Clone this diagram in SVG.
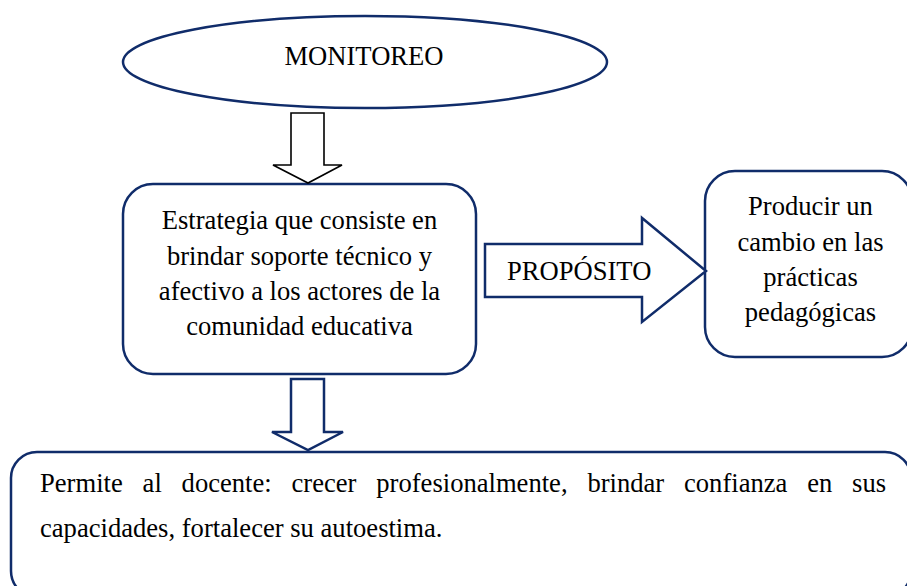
<svg xmlns="http://www.w3.org/2000/svg" width="907" height="586" viewBox="0 0 907 586">
<style>
.n{fill:#fff;stroke:#102c6a;stroke-width:2.5}
text{font-family:'Liberation Serif','Times New Roman',Times,serif;font-size:26.6px;fill:#000}
.c{text-anchor:middle}
.ak{fill:#fff;stroke:#000;stroke-width:1.6;stroke-linejoin:miter}
.ab{fill:#fff;stroke:#102c6a;stroke-width:2.5;stroke-linejoin:miter}
</style>
<rect width="907" height="586" fill="#fff"/>
<g font-family="Liberation Serif, Times New Roman, serif" font-size="26.6">
<g id="monitoreo">
<ellipse class="n" cx="365" cy="62" rx="242" ry="46"/>
<text class="c" x="364" y="65">MONITOREO</text>
</g>
<g id="estrategia">
<rect class="n" x="123" y="184" width="353" height="190" rx="30"/>
<text class="c" x="299.5" y="229">Estrategia que consiste en</text>
<text class="c" x="299.5" y="264.5">brindar soporte técnico y</text>
<text class="c" x="299.5" y="300">afectivo a los actores de la</text>
<text class="c" x="299.5" y="335">comunidad educativa</text>
</g>
<g id="producir">
<rect class="n" x="705" y="171" width="207" height="186" rx="30"/>
<text class="c" x="810.5" y="215">Producir un</text>
<text class="c" x="810.5" y="250.5">cambio en las</text>
<text class="c" x="810.5" y="286">prácticas</text>
<text class="c" x="810.5" y="321">pedagógicas</text>
</g>
<g id="permite">
<rect class="n" x="11" y="452" width="900" height="145" rx="26"/>
<text y="492"><tspan x="40">Permite</tspan><tspan x="142.6">al</tspan><tspan x="181.6">docente:</tspan><tspan x="291.5">crecer</tspan><tspan x="376.3">profesionalmente,</tspan><tspan x="587.4">brindar</tspan><tspan x="684">confianza</tspan><tspan x="807.2">en</tspan><tspan x="852.1">sus</tspan></text>
<text x="40" y="537">capacidades, fortalecer su autoestima.</text>
</g>
<g id="connectors">
<path class="ak" d="M291,113 H324 V165 H342 L308,183 L273,165 H291 Z"/>
<g id="proposito">
<path class="ab" d="M485,244 H642 V218 L706,271 L642,322 V297 H485 Z"/>
<text x="507" y="280">PROPÓSITO</text>
</g>
<path class="ab" d="M291,379 H324 V432 H343 L308,450 L272,432 H291 Z"/>
</g>
</g>
</svg>
